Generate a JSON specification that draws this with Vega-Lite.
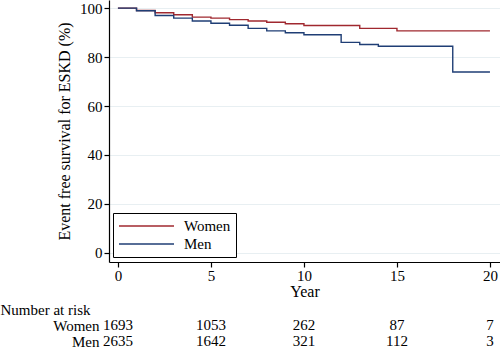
{
  "$schema": "https://vega.github.io/schema/vega-lite/v6.json",
  "padding": 0,
  "background": "white",
  "spacing": 3,
  "config": {
    "view": {"stroke": null},
    "font": "Liberation Serif",
    "axis": {
      "labelFont": "Liberation Serif",
      "titleFont": "Liberation Serif",
      "labelFontSize": 15,
      "titleFontSize": 16,
      "titleFontWeight": "normal",
      "labelColor": "#000",
      "titleColor": "#000",
      "domainColor": "#000",
      "tickColor": "#000",
      "domainWidth": 1.2,
      "tickWidth": 1.2
    }
  },
  "vconcat": [
    {
      "width": 391,
      "height": 262,
      "data": {
        "values": [
          {"group": "Women", "year": 0, "surv": 100},
          {"group": "Women", "year": 1, "surv": 99.0},
          {"group": "Women", "year": 2, "surv": 98.1},
          {"group": "Women", "year": 3, "surv": 97.3},
          {"group": "Women", "year": 4, "surv": 96.3},
          {"group": "Women", "year": 5, "surv": 95.9},
          {"group": "Women", "year": 6, "surv": 95.3},
          {"group": "Women", "year": 7, "surv": 94.7},
          {"group": "Women", "year": 8, "surv": 94.2},
          {"group": "Women", "year": 9, "surv": 93.6},
          {"group": "Women", "year": 10, "surv": 92.9},
          {"group": "Women", "year": 13, "surv": 91.7},
          {"group": "Women", "year": 15, "surv": 90.7},
          {"group": "Women", "year": 20, "surv": 90.7},
          {"group": "Men", "year": 0, "surv": 100},
          {"group": "Men", "year": 1, "surv": 98.9},
          {"group": "Men", "year": 2, "surv": 97.0},
          {"group": "Men", "year": 3, "surv": 95.9},
          {"group": "Men", "year": 4, "surv": 94.7},
          {"group": "Men", "year": 5, "surv": 93.8},
          {"group": "Men", "year": 6, "surv": 93.0},
          {"group": "Men", "year": 7, "surv": 91.7},
          {"group": "Men", "year": 8, "surv": 90.7},
          {"group": "Men", "year": 9, "surv": 89.9},
          {"group": "Men", "year": 10, "surv": 89.1},
          {"group": "Men", "year": 12, "surv": 86.0},
          {"group": "Men", "year": 13, "surv": 85.1},
          {"group": "Men", "year": 14, "surv": 84.4},
          {"group": "Men", "year": 18, "surv": 73.9},
          {"group": "Men", "year": 20, "surv": 73.9}
        ]
      },
      "mark": {"type": "line", "interpolate": "step-after", "strokeWidth": 1.4},
      "encoding": {
        "x": {
          "field": "year",
          "type": "quantitative",
          "scale": {"domain": [-0.48, 20.54], "nice": false, "zero": false},
          "axis": {
            "values": [0, 5, 10, 15, 20],
            "title": "Year",
            "grid": false,
            "tickSize": 5,
            "labelPadding": 1,
            "titlePadding": 0,
            "labelFlush": false
          }
        },
        "y": {
          "field": "surv",
          "type": "quantitative",
          "scale": {"domain": [-3.7, 103.3], "nice": false, "zero": false},
          "axis": {
            "values": [0, 20, 40, 60, 80, 100],
            "title": "Event free survival for ESKD (%)",
            "grid": true,
            "gridColor": "#e8eff2",
            "tickSize": 5,
            "labelPadding": 2,
            "titlePadding": 7
          }
        },
        "color": {
          "field": "group",
          "type": "nominal",
          "scale": {"domain": ["Women", "Men"], "range": ["#a0282f", "#1f3e75"]},
          "legend": {
            "title": null,
            "orient": "none",
            "legendX": 4,
            "legendY": 213,
            "strokeColor": "#000",
            "fillColor": "white",
            "padding": 5,
            "symbolType": "stroke",
            "symbolSize": 3025,
            "symbolStrokeWidth": 1.4,
            "labelFont": "Liberation Serif",
            "labelFontSize": 15,
            "labelColor": "#000",
            "labelOffset": 9,
            "clipHeight": 16,
            "rowPadding": 2
          }
        }
      }
    },
    {
      "width": 391,
      "height": 32,
      "data": {
        "values": [
          {"group": "Women", "year": 0, "n": 1693},
          {"group": "Women", "year": 5, "n": 1053},
          {"group": "Women", "year": 10, "n": 262},
          {"group": "Women", "year": 15, "n": 87},
          {"group": "Women", "year": 20, "n": 7},
          {"group": "Men", "year": 0, "n": 2635},
          {"group": "Men", "year": 5, "n": 1642},
          {"group": "Men", "year": 10, "n": 321},
          {"group": "Men", "year": 15, "n": 112},
          {"group": "Men", "year": 20, "n": 3}
        ]
      },
      "mark": {"type": "text", "font": "Liberation Serif", "fontSize": 15, "color": "#000", "baseline": "middle"},
      "encoding": {
        "x": {
          "field": "year",
          "type": "quantitative",
          "scale": {"domain": [-0.48, 20.54], "nice": false, "zero": false},
          "axis": null
        },
        "y": {
          "field": "group",
          "type": "nominal",
          "scale": {"domain": ["Women", "Men"]},
          "axis": {
            "domain": false,
            "ticks": false,
            "labelPadding": 10,
            "titleFontSize": 15,
            "title": "Number at risk",
            "titleAngle": 0,
            "titleAlign": "left",
            "titleBaseline": "middle",
            "titleX": -109,
            "titleY": -8
          }
        },
        "text": {"field": "n", "type": "quantitative", "format": "d"}
      }
    }
  ]
}
